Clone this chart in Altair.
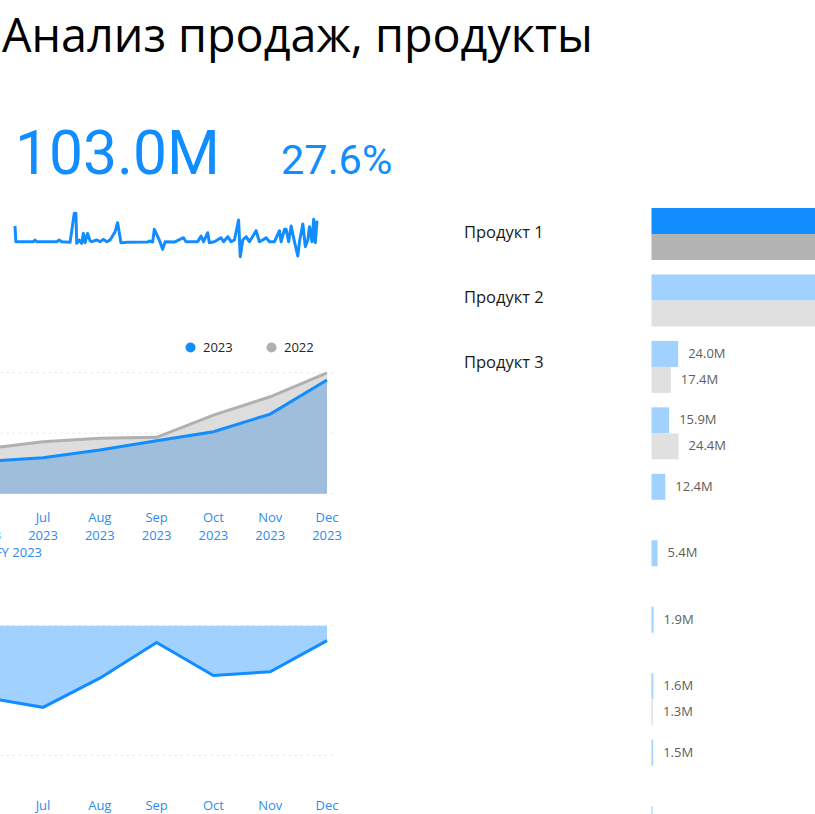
import altair as alt
import pandas as pd

# ---------------- data ----------------
TITLE = "Анализ продаж, продукты"
KPI_TOTAL = ["103.0M"]
KPI_GROWTH = ["27.6%"]

months = [6, 7, 8, 9, 10, 11, 12]
month_names = ["Jun", "Jul", "Aug", "Sep", "Oct", "Nov", "Dec"]
year_text = "2023"
period_label = ["FY 2023"]

cum_2023 = [26.6, 29.7, 36.1, 43.8, 51.2, 65.8, 93.9]
cum_2022 = [37.3, 43.0, 45.8, 46.6, 65.0, 80.1, 99.9]
top_grid = [0, 50, 100]

diff_pct = [-11.1, -12.6, -8.1, -2.6, -7.7, -7.1, -2.3]
bottom_grid = [-20, 0]

grid_span = [5.0, 12.1]

spark_days = [0, 1, 22, 24, 26, 50, 53, 56, 66, 71, 73, 74, 77, 80, 82, 84, 87, 90, 92, 98,
              102, 106, 110, 114, 120, 123, 127, 135, 159, 161, 165, 167, 173, 177, 180, 191,
              202, 205, 219, 223, 226, 231, 233, 239, 247, 250, 255, 259, 263, 268, 270, 273,
              277, 281, 289, 293, 297, 301, 305, 311, 317, 319, 323, 325, 328, 331, 335, 339,
              341, 345, 348, 351, 353, 356, 358, 360, 362]
spark_sales = [488, 300, 300, 320, 300, 300, 320, 300, 292, 640, 640, 280, 320, 280, 400, 288,
               400, 312, 300, 320, 300, 328, 300, 320, 420, 528, 288, 292, 296, 308, 296, 448,
               320, 208, 300, 296, 348, 300, 300, 368, 300, 408, 288, 300, 348, 300, 360, 300,
               320, 560, 120, 320, 360, 300, 432, 300, 320, 348, 300, 300, 432, 300, 448, 448,
               300, 488, 300, 128, 300, 512, 240, 320, 480, 300, 568, 288, 552]

products = ["Продукт %d" % i for i in range(1, 11)]
labelled_products = products[:3]
selected_product = "Продукт 1"
sales_2023 = [190.0, 160.0, 24.0, 15.9, 12.4, 5.4, 1.9, 1.6, 1.5, 1.0]
sales_2022 = [170.0, 155.0, 17.4, 24.4, None, None, None, 1.3, None, None]

# ---------------- styles ----------------
BLUE = "#118DFF"
GREY = "#B0B0B0"
AXIS_BLUE = "#2E8CF0"

# ---------------- frames ----------------
top_df = pd.DataFrame({
    "month": months * 2,
    "year": ["2023"] * len(months) + ["2022"] * len(months),
    "sales": cum_2023 + cum_2022,
})
top_grid_df = pd.DataFrame({"v": top_grid, "x0": grid_span[0], "x1": grid_span[1]})
bot_df = pd.DataFrame({"month": months, "diff": diff_pct})
bot_grid_df = pd.DataFrame({"v": bottom_grid, "x0": grid_span[0], "x1": grid_span[1]})
mlab_df = pd.DataFrame({"month": months, "lab": [m + "\n" + year_text for m in month_names],
                        "short": month_names})
spark_df = pd.DataFrame({"day": spark_days, "sales": spark_sales})

rows = []
for p, a, b in zip(products, sales_2023, sales_2022):
    sel = "sel" if p == selected_product else "oth"
    rows.append({"product": p, "year": "2023", "value": a, "key": sel + "2023"})
    if b is not None:
        rows.append({"product": p, "year": "2022", "value": b, "key": sel + "2022"})
bar_df = pd.DataFrame(rows)
plabel_df = pd.DataFrame({"product": labelled_products})

# ---------------- scales ----------------
xs_month = alt.Scale(domain=[6, 12], range=[-13.8, 327], nice=False, zero=False)
ys_top = alt.Scale(domain=[0, 100], range=[493.7, 372.7], nice=False, zero=False)
ys_bot = alt.Scale(domain=[-20, 0], range=[755.3, 625.7], nice=False, zero=False)
xs_spark = alt.Scale(domain=[0, 362], range=[15, 317], nice=False, zero=False)
ys_spark = alt.Scale(domain=[0, 600], range=[266.7, 216.7], nice=False, zero=False)
xs_bar = alt.Scale(domain=[0, 200], range=[651.5, 873.5], nice=False, zero=False)
ys_bar = alt.Scale(domain=products, range=[208, 858.05], paddingInner=0.2175, paddingOuter=0)
yoff_bar = alt.Scale(domain=["2023", "2022"], paddingInner=0, paddingOuter=0)
yoff_text = alt.Scale(type="point", domain=["2023", "2022"], padding=0.5)

# ---------------- layers ----------------
title_layer = alt.Chart(pd.DataFrame({"t": [TITLE]})).mark_text(
    align="left", baseline="alphabetic", font="Open Sans", fontSize=46.7, color="#000000"
).encode(x=alt.value(2), y=alt.value(52), text="t:N")

kpi1 = alt.Chart(pd.DataFrame({"t": KPI_TOTAL})).mark_text(
    align="left", baseline="alphabetic", font="Roboto", fontSize=60.5, color=BLUE
).encode(x=alt.value(15), y=alt.value(173.5), text="t:N")

kpi2 = alt.Chart(pd.DataFrame({"t": KPI_GROWTH})).mark_text(
    align="left", baseline="alphabetic", font="Roboto", fontSize=41.5, color=BLUE
).encode(x=alt.value(281), y=alt.value(173.5), text="t:N")

spark = alt.Chart(spark_df).mark_line(color=BLUE, strokeWidth=3, strokeJoin="round").encode(
    x=alt.X("day:Q", scale=xs_spark, axis=None),
    y=alt.Y("sales:Q", scale=ys_spark, axis=None),
)

top_grid_layer = alt.Chart(top_grid_df).mark_rule(
    color="#C8C8C8", strokeWidth=1, strokeDash=[1, 5]
).encode(
    x=alt.X("x0:Q", scale=xs_month, axis=None), x2="x1:Q",
    y=alt.Y("v:Q", scale=ys_top, axis=None),
)

area22 = alt.Chart(top_df).transform_filter("datum.year == '2022'").mark_area(
    color="#DDDDDD").encode(
    x=alt.X("month:Q", scale=xs_month, axis=None),
    y=alt.Y("sales:Q", scale=ys_top, axis=None),
)
area23 = alt.Chart(top_df).transform_filter("datum.year == '2023'").mark_area(
    color="#9FBEDC").encode(
    x=alt.X("month:Q", scale=xs_month, axis=None),
    y=alt.Y("sales:Q", scale=ys_top, axis=None),
)


def legend_for(x, fill):
    return alt.Legend(orient="none", legendX=x, legendY=341, title=None,
                      symbolType="circle", symbolSize=100, symbolFillColor=fill,
                      symbolStrokeWidth=0, labelFont="Open Sans", labelFontSize=13,
                      labelColor="#252423", labelOffset=6, padding=0)


line22 = alt.Chart(top_df).transform_filter("datum.year == '2022'").mark_line(
    strokeWidth=3).encode(
    x=alt.X("month:Q", scale=xs_month, axis=None),
    y=alt.Y("sales:Q", scale=ys_top, axis=None),
    color=alt.Color("year:N", scale=alt.Scale(domain=["2022"], range=[GREY]),
                    legend=legend_for(265, GREY)),
)
line23 = alt.Chart(top_df).transform_filter("datum.year == '2023'").mark_line(
    strokeWidth=3).encode(
    x=alt.X("month:Q", scale=xs_month, axis=None),
    y=alt.Y("sales:Q", scale=ys_top, axis=None),
    color=alt.Color("year:N", scale=alt.Scale(domain=["2023"], range=[BLUE]),
                    legend=legend_for(184, BLUE)),
)

top_labels = alt.Chart(mlab_df).mark_text(
    baseline="top", lineBreak="\n", lineHeight=18, font="Open Sans", fontSize=13,
    color=AXIS_BLUE
).encode(x=alt.X("month:Q", scale=xs_month, axis=None), y=alt.value(512.4), text="lab:N")

period_layer = alt.Chart(pd.DataFrame({"t": period_label})).mark_text(
    align="right", baseline="middle", font="Open Sans", fontSize=13, color=AXIS_BLUE
).encode(x=alt.value(42), y=alt.value(553), text="t:N")

bot_grid_layer = alt.Chart(bot_grid_df).mark_rule(
    color="#C8C8C8", strokeWidth=1, strokeDash=[1, 5]
).encode(
    x=alt.X("x0:Q", scale=xs_month, axis=None), x2="x1:Q",
    y=alt.Y("v:Q", scale=ys_bot, axis=None),
)
bot_area = alt.Chart(bot_df).mark_area(color="#A0D1FF").encode(
    x=alt.X("month:Q", scale=xs_month, axis=None),
    y=alt.Y("diff:Q", scale=ys_bot, axis=None),
)
bot_line = alt.Chart(bot_df).mark_line(color=BLUE, strokeWidth=3).encode(
    x=alt.X("month:Q", scale=xs_month, axis=None),
    y=alt.Y("diff:Q", scale=ys_bot, axis=None),
)
bot_labels = alt.Chart(mlab_df).mark_text(
    baseline="middle", font="Open Sans", fontSize=13, color=AXIS_BLUE
).encode(x=alt.X("month:Q", scale=xs_month, axis=None), y=alt.value(805.5), text="short:N")

bars = alt.Chart(bar_df).mark_bar().encode(
    x=alt.X("value:Q", scale=xs_bar, axis=None),
    y=alt.Y("product:N", scale=ys_bar, axis=None),
    yOffset=alt.YOffset("year:N", scale=yoff_bar),
    color=alt.Color("key:N", scale=alt.Scale(
        domain=["sel2023", "sel2022", "oth2023", "oth2022"],
        range=[BLUE, "#B3B3B3", "#A0D1FF", "#E0E0E0"]), legend=None),
)
bar_text = alt.Chart(bar_df).transform_calculate(
    lab="format(datum.value, '.1f') + 'M'"
).mark_text(align="left", baseline="middle", dx=10, font="Open Sans", fontSize=13,
            color="#605E5C").encode(
    x=alt.X("value:Q", scale=xs_bar, axis=None),
    y=alt.Y("product:N", scale=ys_bar, axis=None),
    yOffset=alt.YOffset("year:N", scale=yoff_text),
    text="lab:N",
)
prod_labels = alt.Chart(plabel_df).mark_text(
    align="left", baseline="middle", dy=-8, font="Open Sans", fontSize=16.5, color="#1A1A1A"
).encode(
    x=alt.value(464),
    y=alt.Y("product:N", scale=ys_bar, axis=None),
    text="product:N",
)

chart = alt.layer(
    title_layer, kpi1, kpi2, spark,
    top_grid_layer, area22, area23, line22, line23, top_labels, period_layer,
    bot_grid_layer, bot_area, bot_line, bot_labels,
    bars, bar_text, prod_labels,
).resolve_scale(
    x="independent", y="independent", color="independent", yOffset="independent"
).properties(
    width=815, height=814, padding=0, autosize=alt.AutoSizeParams(type="none"),
    background="white"
).configure_view(stroke=None)

chart.save("out.html", embed_options={"renderer": "svg", "actions": False})
